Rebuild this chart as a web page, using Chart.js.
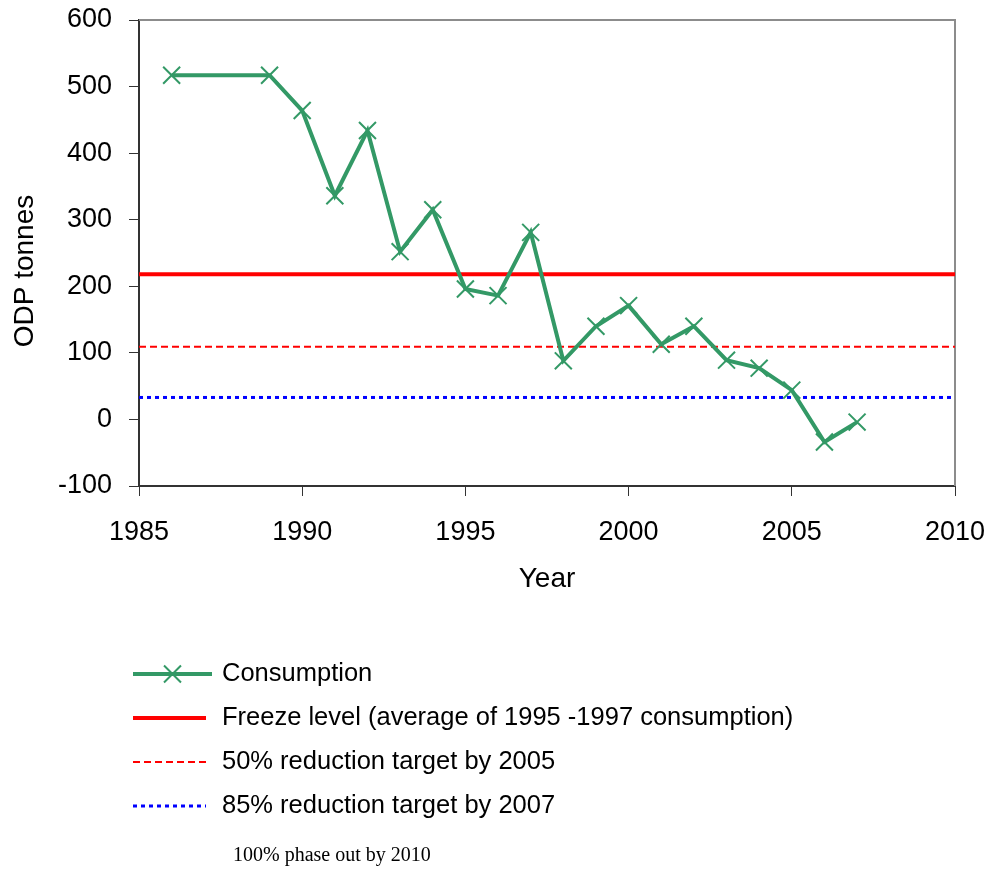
<!DOCTYPE html>
<html>
<head>
<meta charset="utf-8">
<script src="https://cdn.jsdelivr.net/npm/chart.js@4.4.1/dist/chart.umd.min.js"></script>
<style>
  body { margin: 0; background: #fff; }
  #wrap { position: relative; width: 990px; height: 871px; }
  #note { position: absolute; left: 233px; top: 843px; font: 20px "Liberation Serif", "Times New Roman", serif; color: #000; }
</style>
</head>
<body>
<div id="wrap">
  <canvas id="chart" width="990" height="871"></canvas>
  <div id="note">100% phase out by 2010</div>
</div>
<script>
// consumption in ODP tonnes
const years = [1986, 1989, 1990, 1991, 1992, 1993, 1994, 1995, 1996, 1997, 1998, 1999, 2000, 2001, 2002, 2003, 2004, 2005, 2006, 2007];
const consumption = [517, 517, 464, 336, 434, 252, 315, 196, 186, 281, 88, 140, 171, 113, 140, 89, 77, 44, -34, -4];

// reference levels span the whole x range
const level_years = [1985, 2010];
const freeze_level = 218;
const target_50 = 109;
const target_85 = 33;

const labels = ['Consumption', 'Freeze level (average of 1995 -1997 consumption)', '50% reduction target by 2005', '85% reduction target by 2007'];
const y_title = 'ODP tonnes';

const FONT = '"Liberation Sans", Arial, sans-serif';

function flat(v) { return level_years.map(y => ({x: y, y: v})); }

// legend stacked under the chart, one row per dataset
const stack_legend = {
  id: 'stack_legend',
  afterDraw(chart) {
    let ctx = chart.ctx;
    ctx.save();
    chart.data.datasets.forEach((d, i) => {
      let y = 674 + i * 44;
      let x0 = 133, x1 = d.pointStyle ? 212 : 206;
      ctx.strokeStyle = d.borderColor;
      ctx.lineWidth = d.borderWidth;
      ctx.setLineDash(d.borderDash || []);
      ctx.beginPath();
      ctx.moveTo(x0, y);
      ctx.lineTo(x1, y);
      ctx.stroke();
      ctx.setLineDash([]);
      if (d.pointStyle) {
        ctx.lineWidth = d.pointBorderWidth;
        Chart.helpers.drawPoint(ctx, {pointStyle: d.pointStyle, radius: d.pointRadius, borderWidth: d.pointBorderWidth}, (x0 + x1) / 2, y);
      }
      ctx.fillStyle = '#000';
      ctx.font = '25.5px ' + FONT;
      ctx.textBaseline = 'middle';
      ctx.fillText(d.label, 222, y);
    });
    ctx.restore();
  }
};

// grey frame on top and right of the plot area, plus the y title (sits a bit below centre)
const frame = {
  id: 'frame',
  beforeDatasetsDraw(chart) {
    let a = chart.chartArea, ctx = chart.ctx;
    ctx.save();
    ctx.strokeStyle = '#8c8c8c';
    ctx.lineWidth = 2;
    ctx.beginPath();
    ctx.moveTo(a.left, a.top);
    ctx.lineTo(a.right, a.top);
    ctx.lineTo(a.right, a.bottom);
    ctx.stroke();
    ctx.translate(33, (a.top + a.bottom) / 2 + 18);
    ctx.rotate(-Math.PI / 2);
    ctx.fillStyle = '#000';
    ctx.font = '28px ' + FONT;
    ctx.textAlign = 'center';
    ctx.textBaseline = 'alphabetic';
    ctx.fillText(y_title, 0, 0);
    ctx.restore();
  }
};

new Chart(document.getElementById('chart'), {
  type: 'line',
  data: {
    datasets: [
      {
        label: labels[0],
        data: consumption.map((v, i) => ({x: years[i], y: v})),
        borderColor: '#339966',
        backgroundColor: '#339966',
        borderWidth: 4,
        pointStyle: 'crossRot',
        pointRadius: 12,
        pointBorderWidth: 2,
        pointBorderColor: '#339966',
        tension: 0,
        order: 0
      },
      {
        label: labels[1],
        data: flat(freeze_level),
        borderColor: '#ff0000',
        borderWidth: 4,
        pointRadius: 0,
        order: 1
      },
      {
        label: labels[2],
        data: flat(target_50),
        borderColor: '#ff0000',
        borderWidth: 2,
        borderDash: [7, 4],
        pointRadius: 0,
        order: 2
      },
      {
        label: labels[3],
        data: flat(target_85),
        borderColor: '#0000ff',
        borderWidth: 3,
        borderDash: [4, 4],
        pointRadius: 0,
        order: 3
      }
    ]
  },
  options: {
    responsive: false,
    animation: false,
    layout: { padding: { left: 0, top: 20, right: 35, bottom: 275 } },
    plugins: { legend: { display: false }, tooltip: { enabled: false } },
    scales: {
      x: {
        type: 'linear',
        min: 1985, max: 2010,
        afterFit: s => { s.height = 110; s.paddingLeft = 0; s.paddingRight = 0; },
        grid: { drawOnChartArea: false, drawTicks: true, tickLength: 10, color: '#333' },
        border: { color: '#333', width: 2 },
        ticks: { stepSize: 5, color: '#000', font: { family: FONT, size: 27 }, padding: 20, callback: v => String(v) },
        title: { display: true, text: 'Year', color: '#000', font: { family: FONT, size: 28 }, padding: { top: 0, bottom: 0 } }
      },
      y: {
        min: -100, max: 600,
        afterFit: s => { s.width = 139; s.paddingTop = 0; s.paddingBottom = 0; },
        grid: { drawOnChartArea: false, drawTicks: true, tickLength: 10, color: '#333' },
        border: { color: '#333', width: 2 },
        ticks: { stepSize: 100, color: '#000', font: { family: FONT, size: 27 }, padding: 17 }
      }
    }
  },
  plugins: [frame, stack_legend]
});
</script>
</body>
</html>
